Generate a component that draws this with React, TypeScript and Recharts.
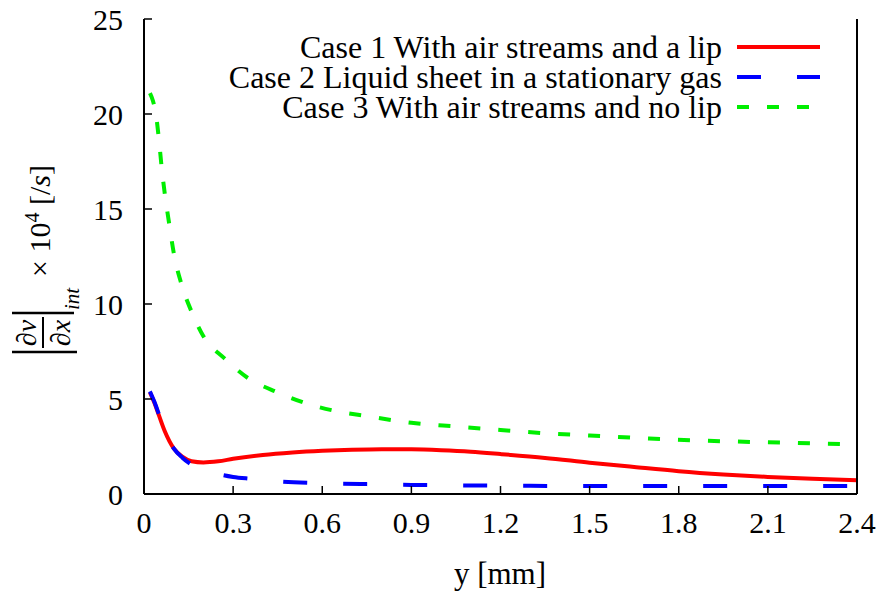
import React from 'react';
import { LineChart, Line, XAxis, YAxis } from 'recharts';

const X_TICKS = [0, 0.3, 0.6, 0.9, 1.2, 1.5, 1.8, 2.1, 2.4];
const Y_TICKS = [0, 5, 10, 15, 20, 25];

const CASE1_X = [0.02, 0.035, 0.05, 0.07, 0.1, 0.13, 0.16, 0.2, 0.25, 0.3, 0.4, 0.5, 0.6, 0.7, 0.8, 0.9, 1.0, 1.1, 1.2, 1.35, 1.5, 1.65, 1.8, 1.95, 2.1, 2.25, 2.4];
const CASE1_Y = [5.35, 4.8, 4.15, 3.3, 2.4, 1.95, 1.72, 1.66, 1.72, 1.85, 2.05, 2.18, 2.27, 2.33, 2.36, 2.35, 2.3, 2.22, 2.1, 1.9, 1.65, 1.42, 1.2, 1.03, 0.9, 0.8, 0.72];

const CASE2_X = [0.02, 0.035, 0.05, 0.07, 0.1, 0.13, 0.16, 0.2, 0.25, 0.3, 0.36, 0.45, 0.55, 0.65, 0.75, 0.9, 1.1, 1.3, 1.6, 1.9, 2.2, 2.4];
const CASE2_Y = [5.4, 4.85, 4.2, 3.3, 2.4, 1.9, 1.55, 1.27, 1.05, 0.9, 0.8, 0.67, 0.59, 0.55, 0.52, 0.48, 0.45, 0.43, 0.42, 0.42, 0.42, 0.42];

const CASE3_X = [0.02, 0.03, 0.04, 0.05, 0.06, 0.07, 0.085, 0.1, 0.125, 0.16, 0.2, 0.27, 0.35, 0.45, 0.55, 0.65, 0.75, 0.9, 1.05, 1.2, 1.35, 1.5, 1.7, 1.9, 2.1, 2.3, 2.4];
const CASE3_Y = [21.1, 20.7, 20.0, 18.7, 17.1, 15.8, 14.2, 12.7, 11.1, 9.6, 8.3, 7.15, 6.1, 5.35, 4.75, 4.35, 4.1, 3.75, 3.55, 3.37, 3.2, 3.08, 2.92, 2.8, 2.72, 2.65, 2.62];

const SERIES = [
  { name: 'Case 1 With air streams and a lip', xs: CASE1_X, ys: CASE1_Y, color: '#ff0000', dash: undefined as string | undefined },
  { name: 'Case 2 Liquid sheet in a stationary gas', xs: CASE2_X, ys: CASE2_Y, color: '#0000ff', dash: '24 36' },
  { name: 'Case 3 With air streams and no lip', xs: CASE3_X, ys: CASE3_Y, color: '#00ee00', dash: '12 18' },
];

const FONT = 'Liberation Serif';
const tickStyle = { fontSize: 30, fill: '#000', fontFamily: FONT };
const blank = () => '';

// rotated axis title: |dv/dx|_int x 10^4 [/s]
function YLabel() {
  return (
    <g transform="translate(0, 360) rotate(-90)" fill="#000" style={{ fontFamily: FONT }}>
      <line x1={8} y1={12} x2={8} y2={77} stroke="#000" strokeWidth={2.5} />
      <line x1={47} y1={12} x2={47} y2={74} stroke="#000" strokeWidth={2.5} />
      <text x={27} y={36} fontSize={28} fontStyle="italic" textAnchor="middle" style={{ fontFamily: FONT }}>∂v</text>
      <line x1={12} y1={43} x2={43} y2={43} stroke="#000" strokeWidth={2} />
      <text x={27} y={70} fontSize={28} fontStyle="italic" textAnchor="middle" style={{ fontFamily: FONT }}>∂x</text>
      <text x={50} y={79} fontSize={21} fontStyle="italic" style={{ fontFamily: FONT }}>int</text>
      <text x={83} y={50} fontSize={30} style={{ fontFamily: FONT }}>
        × 10<tspan fontSize={20} dy={-11}>4</tspan><tspan dy={11}> [/</tspan><tspan fontStyle="italic">s</tspan>]
      </text>
    </g>
  );
}

function XLabel() {
  return (
    <text x={500} y={584} fontSize={31} textAnchor="middle" fill="#000" style={{ fontFamily: FONT }}>y [mm]</text>
  );
}

export default function App() {
  return (
    <div style={{ position: 'absolute', left: 0, top: 0, width: 885, height: 594, background: '#fff', fontFamily: FONT }}>
      <LineChart width={885} height={594} margin={{ top: 19, right: 18, left: 84, bottom: 60 }}>
        <XAxis xAxisId="b" type="number" dataKey="x" domain={[0, 2.4]} ticks={X_TICKS} interval={0}
          tickFormatter={(v: number) => String(v)} tick={tickStyle} tickSize={-8} tickMargin={26} height={40}
          axisLine={{ stroke: '#000', strokeWidth: 2 }} tickLine={{ stroke: '#000', strokeWidth: 1.5 }}
          allowDataOverflow label={<XLabel />} />
        <XAxis xAxisId="t" orientation="top" type="number" dataKey="x" domain={[0, 2.4]} ticks={X_TICKS} interval={0}
          tickFormatter={blank} tickSize={-8} height={0}
          axisLine={{ stroke: '#000', strokeWidth: 2 }} tickLine={{ stroke: '#000', strokeWidth: 1.5 }} />
        <YAxis yAxisId="l" type="number" domain={[0, 25]} ticks={Y_TICKS} interval={0}
          tick={tickStyle} tickSize={-8} tickMargin={29} width={60}
          axisLine={{ stroke: '#000', strokeWidth: 2 }} tickLine={{ stroke: '#000', strokeWidth: 1.5 }}
          label={<YLabel />} />
        <YAxis yAxisId="r" orientation="right" type="number" domain={[0, 25]} ticks={Y_TICKS} interval={0}
          tickFormatter={blank} tickSize={-8} width={10}
          axisLine={{ stroke: '#000', strokeWidth: 2 }} tickLine={{ stroke: '#000', strokeWidth: 1.5 }} />
        {SERIES.map((s) => (
          <Line key={s.name} xAxisId="b" yAxisId="l" data={s.xs.map((x, i) => ({ x, y: s.ys[i] }))}
            dataKey="y" type="monotone" stroke={s.color} strokeWidth={4} strokeDasharray={s.dash}
            dot={false} activeDot={false} isAnimationActive={false} />
        ))}
      </LineChart>
      <div style={{ position: 'absolute', left: 0, top: 32, width: 820, fontSize: 32 }}>
        {SERIES.map((s) => (
          <div key={s.name} style={{ height: 30, display: 'flex', justifyContent: 'flex-end', alignItems: 'center' }}>
            <span style={{ display: 'inline-block', height: 30, lineHeight: '30px', whiteSpace: 'nowrap' }}>{s.name}</span>
            <svg width={83} height={8} style={{ marginLeft: 15 }}>
              <line x1={0} y1={4} x2={83} y2={4} stroke={s.color} strokeWidth={4} strokeDasharray={s.dash} />
            </svg>
          </div>
        ))}
      </div>
    </div>
  );
}
